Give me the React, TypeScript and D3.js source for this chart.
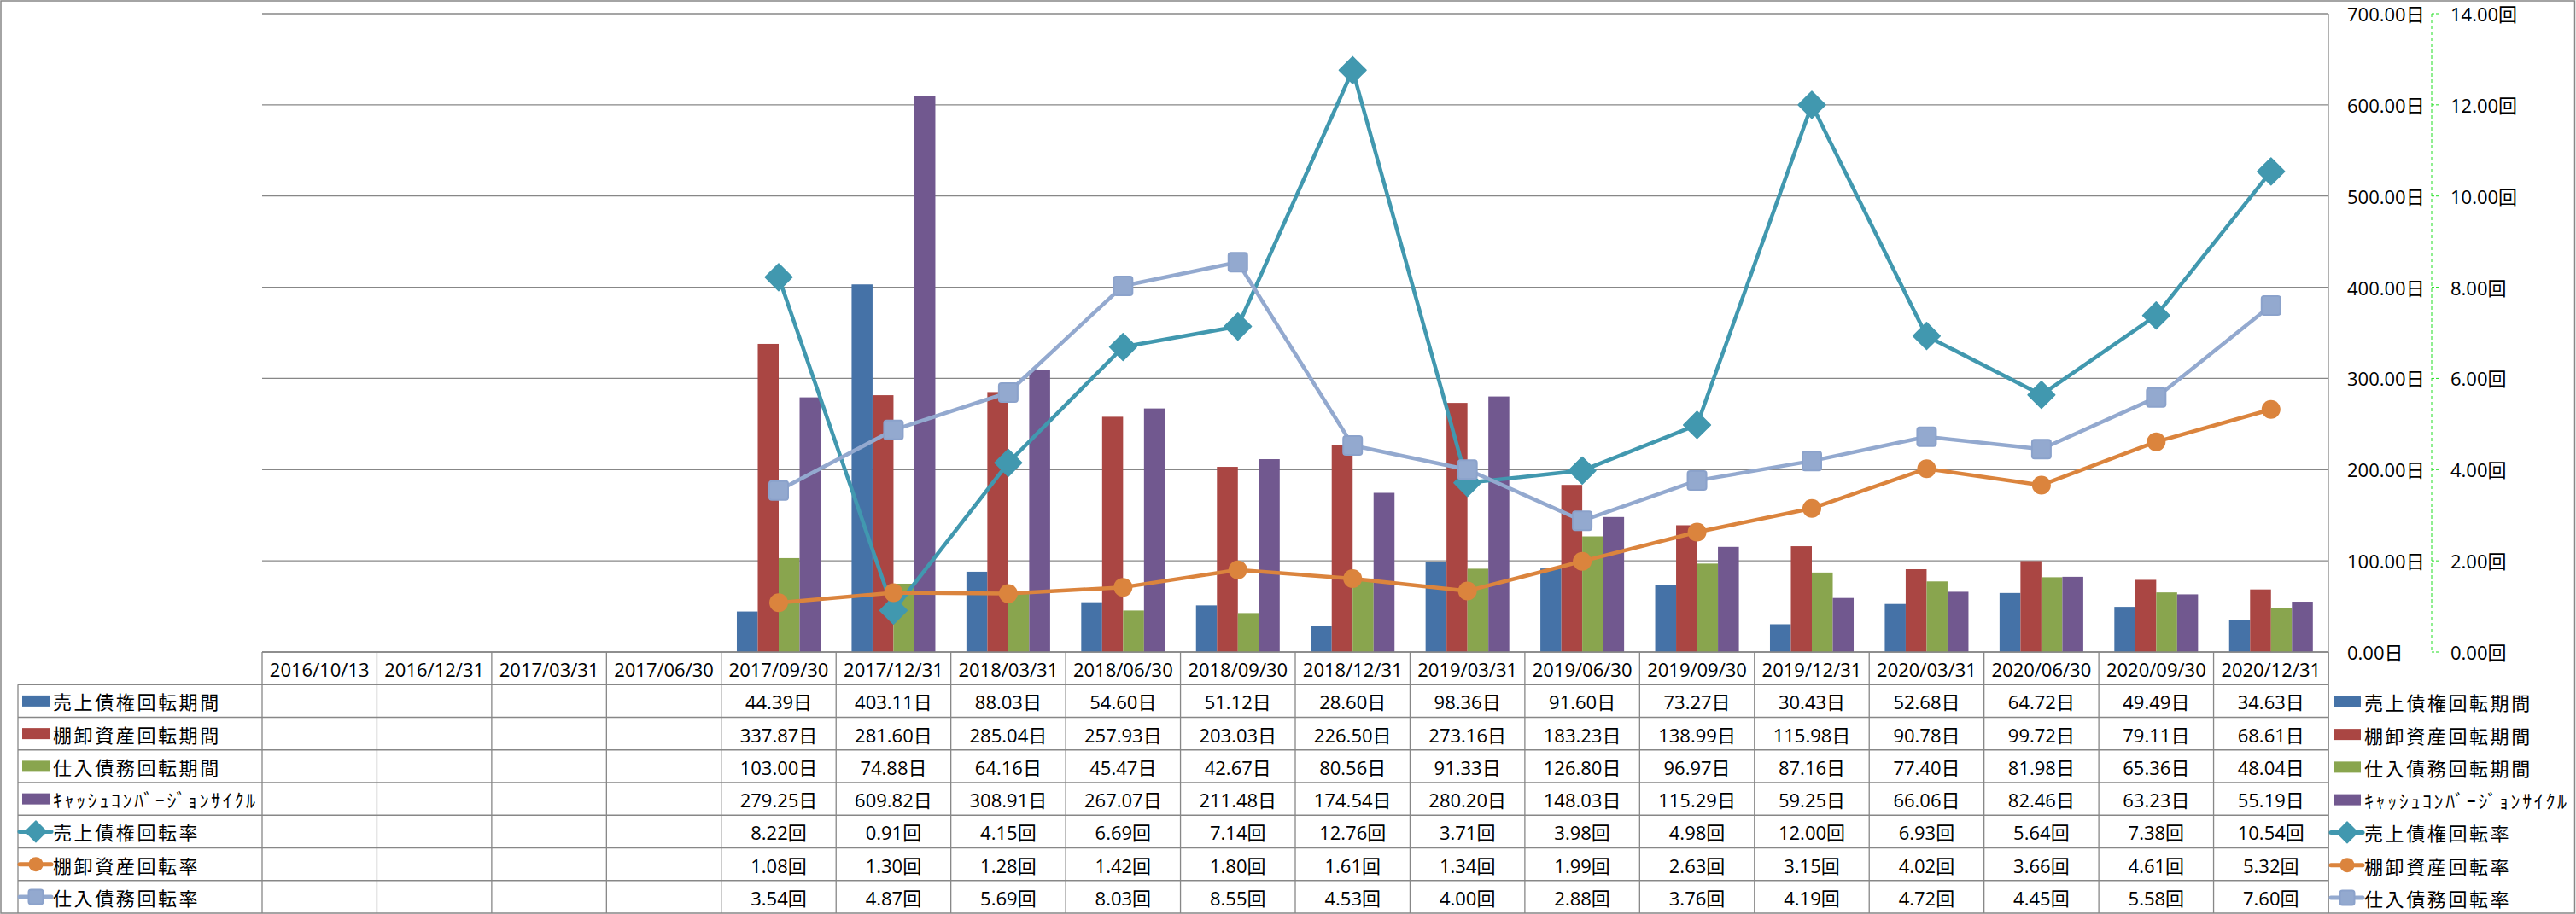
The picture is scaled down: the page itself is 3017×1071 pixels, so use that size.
import React, { useEffect } from "react";
import * as d3 from "d3";

const categories = [
  "2016/10/13", "2016/12/31", "2017/03/31", "2017/06/30", "2017/09/30", "2017/12/31",
  "2018/03/31", "2018/06/30", "2018/09/30", "2018/12/31", "2019/03/31", "2019/06/30",
  "2019/09/30", "2019/12/31", "2020/03/31", "2020/06/30", "2020/09/30", "2020/12/31",
];

const N = null;
const receivableDays = [N, N, N, N, 44.39, 403.11, 88.03, 54.60, 51.12, 28.60, 98.36, 91.60, 73.27, 30.43, 52.68, 64.72, 49.49, 34.63];
const inventoryDays = [N, N, N, N, 337.87, 281.60, 285.04, 257.93, 203.03, 226.50, 273.16, 183.23, 138.99, 115.98, 90.78, 99.72, 79.11, 68.61];
const payableDays = [N, N, N, N, 103.00, 74.88, 64.16, 45.47, 42.67, 80.56, 91.33, 126.80, 96.97, 87.16, 77.40, 81.98, 65.36, 48.04];
const cccDays = [N, N, N, N, 279.25, 609.82, 308.91, 267.07, 211.48, 174.54, 280.20, 148.03, 115.29, 59.25, 66.06, 82.46, 63.23, 55.19];
const receivableTurn = [N, N, N, N, 8.22, 0.91, 4.15, 6.69, 7.14, 12.76, 3.71, 3.98, 4.98, 12.00, 6.93, 5.64, 7.38, 10.54];
const inventoryTurn = [N, N, N, N, 1.08, 1.30, 1.28, 1.42, 1.80, 1.61, 1.34, 1.99, 2.63, 3.15, 4.02, 3.66, 4.61, 5.32];
const payableTurn = [N, N, N, N, 3.54, 4.87, 5.69, 8.03, 8.55, 4.53, 4.00, 2.88, 3.76, 4.19, 4.72, 4.45, 5.58, 7.60];

const leftTicks = [0, 100, 200, 300, 400, 500, 600, 700];
const rightTicks = [0, 2, 4, 6, 8, 10, 12, 14];

type Series = { name: string; values: (number | null)[]; color: string; kind: "bar" | "line"; marker?: string; unit: string };

const series: Series[] = [
  { name: "売上債権回転期間", values: receivableDays, color: "#4572A7", kind: "bar", unit: "日" },
  { name: "棚卸資産回転期間", values: inventoryDays, color: "#AA4643", kind: "bar", unit: "日" },
  { name: "仕入債務回転期間", values: payableDays, color: "#89A54E", kind: "bar", unit: "日" },
  { name: "ｷｬｯｼｭｺﾝﾊﾞｰｼﾞｮﾝｻｲｸﾙ", values: cccDays, color: "#71588F", kind: "bar", unit: "日" },
  { name: "売上債権回転率", values: receivableTurn, color: "#4198AF", kind: "line", marker: "diamond", unit: "回" },
  { name: "棚卸資産回転率", values: inventoryTurn, color: "#DB843D", kind: "line", marker: "circle", unit: "回" },
  { name: "仕入債務回転率", values: payableTurn, color: "#93A9CF", kind: "line", marker: "square", unit: "回" },
];

const W = 3017;
const H = 1071;
const plotL = 307;
const plotR = 2727;
const plotT = 16;
const plotB = 764;
const rowH = (1070 - 764) / 8;
const numFont = "'Open Sans', 'Noto Sans CJK JP', sans-serif";
const cjkFont = "'Noto Sans CJK JP', 'Open Sans', sans-serif";
const gridColor = "#878787";

function Marker({ type, x, y, size, color }: { type: string; x: number; y: number; size: number; color: string }) {
  if (type === "diamond") {
    const s = size * 0.72;
    return <path d={`M${x},${y - s} L${x + s},${y} L${x},${y + s} L${x - s},${y} Z`} fill={color} stroke={color} strokeWidth={1.5} strokeLinejoin="round" />;
  }
  if (type === "circle") {
    return <circle cx={x} cy={y} r={size / 2} fill={color} />;
  }
  return <rect x={x - size / 2} y={y - size / 2} width={size} height={size} rx={3} fill={color} stroke="#8BA2CB" strokeWidth={2} />;
}

function LegendKey({ s, x, y }: { s: Series; x: number; y: number }) {
  if (s.kind === "bar") {
    return <rect x={x} y={y - 6.5} width={32} height={13} fill={s.color} />;
  }
  return (
    <g>
      <line x1={x - 3} x2={x + 34} y1={y} y2={y} stroke={s.color} strokeWidth={5} strokeLinecap="round" />
      <Marker type={s.marker!} x={x + 16} y={y} size={17} color={s.color} />
    </g>
  );
}

export default function App() {
  useEffect(() => {
    document.body.style.margin = "0";
  }, []);

  const x = d3.scaleBand<string>().domain(categories).range([plotL, plotR]).paddingInner(0).paddingOuter(0);
  const bw = x.bandwidth();
  const barKeys = series.filter((s) => s.kind === "bar").map((s) => s.name);
  const xSub = d3.scaleBand<string>().domain(barKeys).range([bw * 0.1354, bw * (1 - 0.1354)]).padding(0);
  const yL = d3.scaleLinear().domain([0, 700]).range([plotB, plotT]);
  const yR = d3.scaleLinear().domain([0, 14]).range([plotB, plotT]);

  const lineGen = d3
    .line<{ c: string; v: number | null }>()
    .defined((d) => d.v !== null)
    .x((d) => (x(d.c) as number) + bw / 2)
    .y((d) => yR(d.v as number));

  return (
    <svg width={W} height={H} style={{ position: "absolute", left: 0, top: 0, background: "#fff" }}>
      <rect x={1} y={1} width={W - 2.5} height={H - 2} fill="#fff" stroke={gridColor} strokeWidth={1.5} />

      {/* gridlines */}
      {leftTicks.map((t) => (
        <line key={"g" + t} x1={plotL} x2={plotR} y1={yL(t)} y2={yL(t)} stroke={gridColor} strokeWidth={1.3} />
      ))}
      <line x1={plotR} x2={plotR} y1={plotT} y2={1070} stroke={gridColor} strokeWidth={1.3} />

      {/* bars */}
      {series
        .filter((s) => s.kind === "bar")
        .map((s) => (
          <g key={s.name}>
            {s.values.map((v, i) =>
              v === null ? null : (
                <rect
                  key={i}
                  x={(x(categories[i]) as number) + (xSub(s.name) as number)}
                  y={yL(v)}
                  width={xSub.bandwidth()}
                  height={plotB - yL(v)}
                  fill={s.color}
                />
              )
            )}
          </g>
        ))}

      {/* lines */}
      {series
        .filter((s) => s.kind === "line")
        .map((s) => {
          const pts = s.values.map((v, i) => ({ c: categories[i], v }));
          return (
            <g key={s.name}>
              <path d={lineGen(pts) || ""} fill="none" stroke={s.color} strokeWidth={4.5} strokeLinejoin="round" strokeLinecap="round" />
              {pts.map((p, i) =>
                p.v === null ? null : (
                  <Marker key={i} type={s.marker!} x={(x(p.c) as number) + bw / 2} y={yR(p.v)} size={22} color={s.color} />
                )
              )}
            </g>
          );
        })}

      {/* right axes */}
      <line x1={2848} x2={2848} y1={plotT} y2={plotB} stroke="#22DD22" strokeWidth={1} strokeDasharray="4,3" />
      {rightTicks.map((t) => (
        <line key={"rt" + t} x1={2848} x2={2856} y1={yR(t)} y2={yR(t)} stroke="#22DD22" strokeWidth={1} strokeDasharray="3,2" />
      ))}
      {leftTicks.map((t) => (
        <text key={"lt" + t} x={2749} y={yL(t)} dominantBaseline="central" fontFamily={numFont} fontSize={22} fill="#000">
          {t.toFixed(2)}日
        </text>
      ))}
      {rightTicks.map((t) => (
        <text key={"rl" + t} x={2870} y={yR(t)} dominantBaseline="central" fontFamily={numFont} fontSize={22} fill="#000">
          {t.toFixed(2)}回
        </text>
      ))}

      {/* data table */}
      <g>
        {d3.range(categories.length + 1).map((i) => (
          <line key={"vc" + i} x1={plotL + i * bw} x2={plotL + i * bw} y1={plotB} y2={1070} stroke={gridColor} strokeWidth={1.3} />
        ))}
        <line x1={21} x2={21} y1={plotB + rowH} y2={1070} stroke={gridColor} strokeWidth={1.3} />
        {d3.range(1, 8).map((r) => (
          <line key={"hr" + r} x1={21} x2={plotR} y1={plotB + r * rowH} y2={plotB + r * rowH} stroke={gridColor} strokeWidth={1.3} />
        ))}
        <line x1={plotL} x2={plotR} y1={plotB} y2={plotB} stroke={gridColor} strokeWidth={1.3} />
        {categories.map((c) => (
          <text key={"h" + c} x={(x(c) as number) + bw / 2} y={plotB + rowH / 2 + 1} textAnchor="middle" dominantBaseline="central" fontFamily={numFont} fontSize={22} fill="#000">
            {c}
          </text>
        ))}
        {series.map((s, r) => {
          const cy = plotB + (r + 1) * rowH + rowH / 2;
          return (
            <g key={"row" + s.name}>
              <LegendKey s={s} x={26} y={cy} />
              <text x={62} y={cy} dominantBaseline="central" fontFamily={cjkFont} fontSize={22} letterSpacing={2.6} fill="#000">
                {s.name}
              </text>
              {s.values.map((v, i) =>
                v === null ? null : (
                  <text key={i} x={(x(categories[i]) as number) + bw / 2} y={cy + 1} textAnchor="middle" dominantBaseline="central" fontFamily={numFont} fontSize={22} fill="#000">
                    {v.toFixed(2)}
                    {s.unit}
                  </text>
                )
              )}
              <LegendKey s={s} x={2733} y={cy + 1} />
              <text x={2769} y={cy + 1} dominantBaseline="central" fontFamily={cjkFont} fontSize={22} letterSpacing={2.6} fill="#000">
                {s.name}
              </text>
            </g>
          );
        })}
      </g>
    </svg>
  );
}
